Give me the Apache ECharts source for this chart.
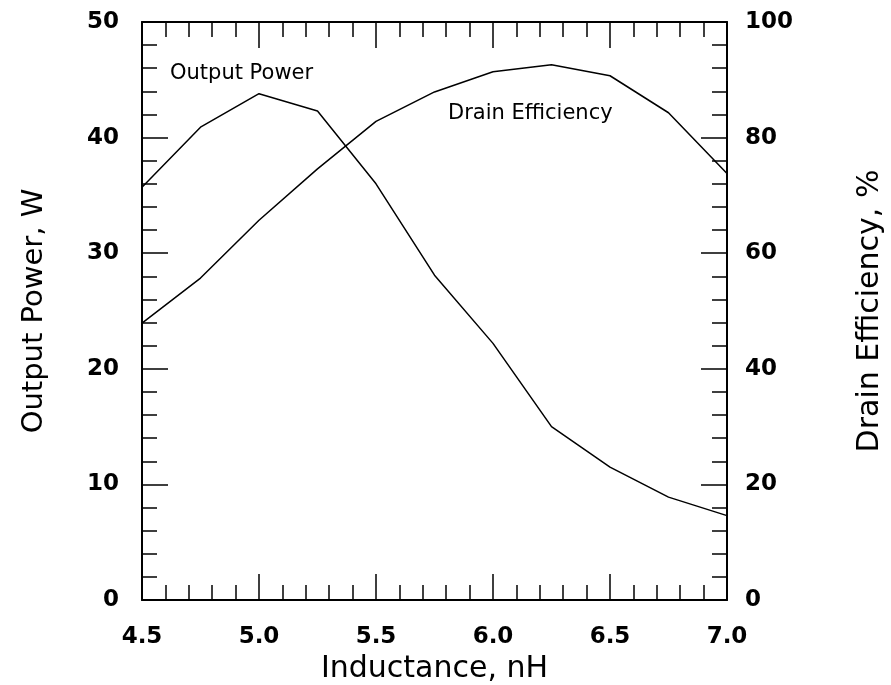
<!DOCTYPE html>
<html>
<head>
<meta charset="utf-8">
<script src="https://cdn.jsdelivr.net/npm/echarts@6/dist/echarts.min.js"></script>
<style>
html,body{margin:0;padding:0;background:#fff;overflow:hidden;}
#chart{width:891px;height:685px;}
</style>
</head>
<body>
<div id="chart"></div>
<script>
const inductance = [4.5, 4.75, 5.0, 5.25, 5.5, 5.75, 6.0, 6.25, 6.5, 6.75, 7.0];
const outputPower = [35.7, 40.9, 43.8, 42.3, 36.0, 28.1, 22.2, 15.0, 11.5, 8.9, 7.3];
const drainEfficiency = [47.9, 55.7, 65.7, 74.6, 82.8, 87.9, 91.4, 92.6, 90.7, 84.3, 73.8];
const xTitle = 'Inductance, nH';
const yLeftTitle = 'Output Power, W';
const yRightTitle = 'Drain Efficiency, %';
const seriesNames = ['Output Power', 'Drain Efficiency'];

const FONT = 'DejaVu Sans';
const chart = echarts.init(document.getElementById('chart'), null, {renderer: 'canvas', width: 891, height: 685});

function axisLine() { return {show: true, onZero: false, lineStyle: {color: '#000', width: 2}}; }
function tickMajor() { return {show: true, inside: true, length: 26, lineStyle: {color: '#000', width: 1.5}}; }
function tickMinor() { return {show: true, splitNumber: 5, length: 15, lineStyle: {color: '#000', width: 1.5}}; }
function tickLabel(margin, fmt) {
  const o = {color: '#000', fontSize: 23, fontWeight: 'bold', fontFamily: FONT, margin: margin};
  if (fmt) o.formatter = fmt;
  return o;
}

const option = {
  backgroundColor: '#fff',
  animation: false,
  textStyle: {fontFamily: FONT, color: '#000'},
  grid: {left: 142, top: 22, width: 585, height: 578, containLabel: false, outerBoundsMode: 'none'},
  xAxis: [
    {
      type: 'value', position: 'bottom', min: 4.5, max: 7.0, interval: 0.5,
      axisLine: axisLine(), axisTick: tickMajor(), minorTick: tickMinor(),
      splitLine: {show: false},
      axisLabel: tickLabel(26, v => v.toFixed(1)),
      name: xTitle, nameLocation: 'middle', nameGap: 43,
      nameTextStyle: {fontSize: 30, fontFamily: FONT, color: '#000'}
    },
    {
      type: 'value', position: 'top', min: 4.5, max: 7.0, interval: 0.5,
      axisLine: axisLine(), axisTick: tickMajor(), minorTick: tickMinor(),
      splitLine: {show: false}, axisLabel: {show: false}
    }
  ],
  yAxis: [
    {
      type: 'value', position: 'left', min: 0, max: 50, interval: 10,
      axisLine: axisLine(), axisTick: tickMajor(), minorTick: tickMinor(),
      splitLine: {show: false},
      axisLabel: tickLabel(23),
      name: yLeftTitle, nameLocation: 'middle', nameGap: 93, nameRotate: 90,
      nameTextStyle: {fontSize: 29, fontFamily: FONT, color: '#000'}
    },
    {
      type: 'value', position: 'right', min: 0, max: 100, interval: 20,
      axisLine: axisLine(), axisTick: tickMajor(), minorTick: tickMinor(),
      splitLine: {show: false},
      axisLabel: tickLabel(18),
      name: yRightTitle, nameLocation: 'middle', nameGap: 128, nameRotate: 90,
      nameTextStyle: {fontSize: 30, fontFamily: FONT, color: '#000'}
    }
  ],
  series: [
    {
      name: seriesNames[0], type: 'line', xAxisIndex: 0, yAxisIndex: 0,
      data: inductance.map((x, i) => [x, outputPower[i]]),
      showSymbol: false, symbol: 'none',
      lineStyle: {color: '#000', width: 1.5}
    },
    {
      name: seriesNames[1], type: 'line', xAxisIndex: 0, yAxisIndex: 1,
      data: inductance.map((x, i) => [x, drainEfficiency[i]]),
      showSymbol: false, symbol: 'none',
      lineStyle: {color: '#000', width: 1.5}
    }
  ],
  graphic: [
    {type: 'text', left: 170, top: 63,
      style: {text: seriesNames[0], font: '21px "DejaVu Sans"', fill: '#000'}},
    {type: 'text', left: 448, top: 103,
      style: {text: seriesNames[1], font: '21px "DejaVu Sans"', fill: '#000'}}
  ]
};
chart.setOption(option);
</script>
</body>
</html>
